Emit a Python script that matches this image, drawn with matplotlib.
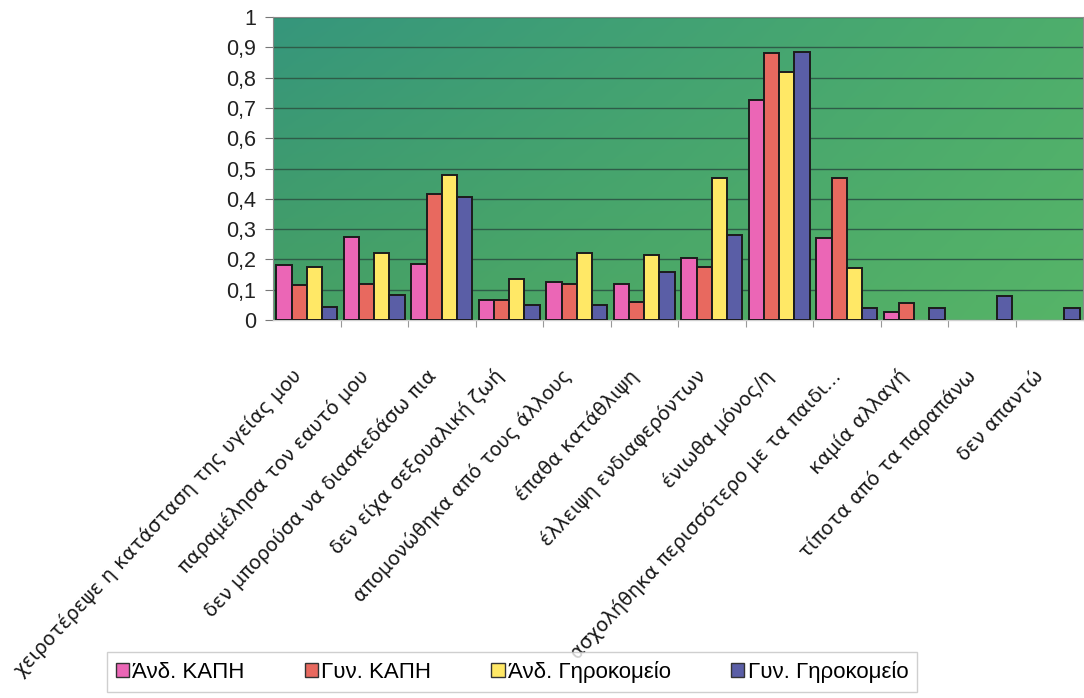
import numpy as np
import matplotlib
matplotlib.use("Agg")
import matplotlib.pyplot as plt
import matplotlib.transforms as mtransforms
from matplotlib.patches import Patch

# Categories (x axis)
CATEGORIES = [
    "χειροτέρεψε η κατάσταση της υγείας μου",
    "παραμέλησα τον εαυτό μου",
    "δεν μπορούσα να διασκεδάσω πια",
    "δεν είχα σεξουαλική ζωή",
    "απομονώθηκα από τους άλλους",
    "έπαθα κατάθλιψη",
    "έλλειψη ενδιαφερόντων",
    "ένιωθα μόνος/η",
    "ασχολήθηκα περισσότερο με τα παιδι...",
    "καμία αλλαγή",
    "τίποτα από τα παραπάνω",
    "δεν απαντώ",
]

# Series values (fractions)
ANDR_KAPI = [0.18, 0.275, 0.185, 0.065, 0.125, 0.12, 0.205, 0.725, 0.27, 0.025, 0, 0]
GYN_KAPI = [0.115, 0.12, 0.415, 0.065, 0.12, 0.06, 0.175, 0.88, 0.47, 0.055, 0, 0]
ANDR_GIRO = [0.175, 0.22, 0.48, 0.135, 0.22, 0.215, 0.47, 0.82, 0.17, 0, 0, 0]
GYN_GIRO = [0.042, 0.083, 0.405, 0.05, 0.05, 0.16, 0.28, 0.885, 0.04, 0.04, 0.078, 0.038]

SERIES_NAMES = ["Άνδ. ΚΑΠΗ", "Γυν. ΚΑΠΗ", "Άνδ. Γηροκομείο", "Γυν. Γηροκομείο"]
SERIES_COLORS = ["#EB66B6", "#E8695F", "#FFE866", "#5A5EA6"]

Y_TICKS = [0, 0.1, 0.2, 0.3, 0.4, 0.5, 0.6, 0.7, 0.8, 0.9, 1]
Y_TICK_LABELS = ["0", "0,1", "0,2", "0,3", "0,4", "0,5", "0,6", "0,7", "0,8", "0,9", "1"]

plt.rcParams["font.family"] = ["Liberation Sans", "DejaVu Sans"]


def draw_background(ax):
    '''Green gradient fill of the plot area, like the Excel chart.'''
    top_left = np.array([54, 150, 124]) / 255
    top_right = np.array([78, 174, 108]) / 255
    bot_left = np.array([70, 160, 100]) / 255
    bot_right = np.array([86, 180, 104]) / 255
    u = np.linspace(0, 1, 200)[None, :, None]
    v = np.linspace(0, 1, 100)[:, None, None]
    img = (top_left * (1 - u) * (1 - v) + top_right * u * (1 - v)
           + bot_left * (1 - u) * v + bot_right * u * v)
    ax.imshow(img, extent=(0, 1, 0, 1), transform=ax.transAxes,
              aspect="auto", zorder=0, interpolation="bilinear")


def visualize(fig):
    ax = fig.add_axes([273 / 1084, 1 - 320 / 698, 810 / 1084, 303 / 698])
    draw_background(ax)

    x = np.arange(len(CATEGORIES))
    width = 0.225
    all_series = [ANDR_KAPI, GYN_KAPI, ANDR_GIRO, GYN_GIRO]
    for i, (vals, color) in enumerate(zip(all_series, SERIES_COLORS)):
        offset = (i - 1.5) * width
        bars = ax.bar(x + offset, vals, width, color=color,
                      edgecolor="#1c1c1c", linewidth=1.4, zorder=3)
        # Excel draws nothing for zero values
        for b, v in zip(bars, vals):
            if v == 0:
                b.set_visible(False)

    ax.set_xlim(-0.5, len(CATEGORIES) - 0.5)
    ax.set_ylim(0, 1)

    # gridlines
    ax.set_yticks(Y_TICKS)
    ax.set_yticklabels(Y_TICK_LABELS, fontsize=15.5, color="#222222")
    ax.yaxis.grid(True, color="#2e5c48", linewidth=1.0, zorder=1)
    ax.set_axisbelow(True)
    ax.tick_params(axis="y", length=6, width=0.8, color="#777777", pad=6)

    # category labels at centres, tick marks between categories
    ax.set_xticks(x)
    ax.set_xticks(x[:-1] + 0.5, minor=True)
    ax.tick_params(axis="x", which="major", length=0, pad=38)
    ax.tick_params(axis="x", which="minor", length=5, width=0.8, color="#999999")
    ax.set_xticklabels(CATEGORIES, rotation=47, ha="right", va="center",
                       rotation_mode="anchor", fontsize=14, color="#1a1a1a",
                       family=["DejaVu Sans"])
    shift = mtransforms.ScaledTranslation(-9 / 100, 0, fig.dpi_scale_trans)
    for lbl in ax.get_xticklabels():
        lbl.set_transform(lbl.get_transform() + shift)

    for side in ["top", "right", "left"]:
        ax.spines[side].set_color("#8a8a8a")
        ax.spines[side].set_linewidth(0.8)
    ax.spines["bottom"].set_color("#cfcfcf")
    ax.spines["bottom"].set_linewidth(1.0)

    # legend at the bottom
    handles = [Patch(facecolor=c, edgecolor="#333333", linewidth=1.0)
               for c in SERIES_COLORS]
    fig.legend(handles, SERIES_NAMES, loc="center",
               bbox_to_anchor=(512 / 1084, 1 - 672 / 698), ncol=4,
               fontsize=16, frameon=True, fancybox=False, edgecolor="#c4c4c4",
               handlelength=0.6, handleheight=0.6, handletextpad=0.15,
               columnspacing=2.7, borderpad=0.4)


def main():
    fig = plt.figure(figsize=(10.84, 6.98), dpi=100)
    visualize(fig)
    fig.savefig("out.png", dpi=100)


if __name__ == "__main__":
    main()
